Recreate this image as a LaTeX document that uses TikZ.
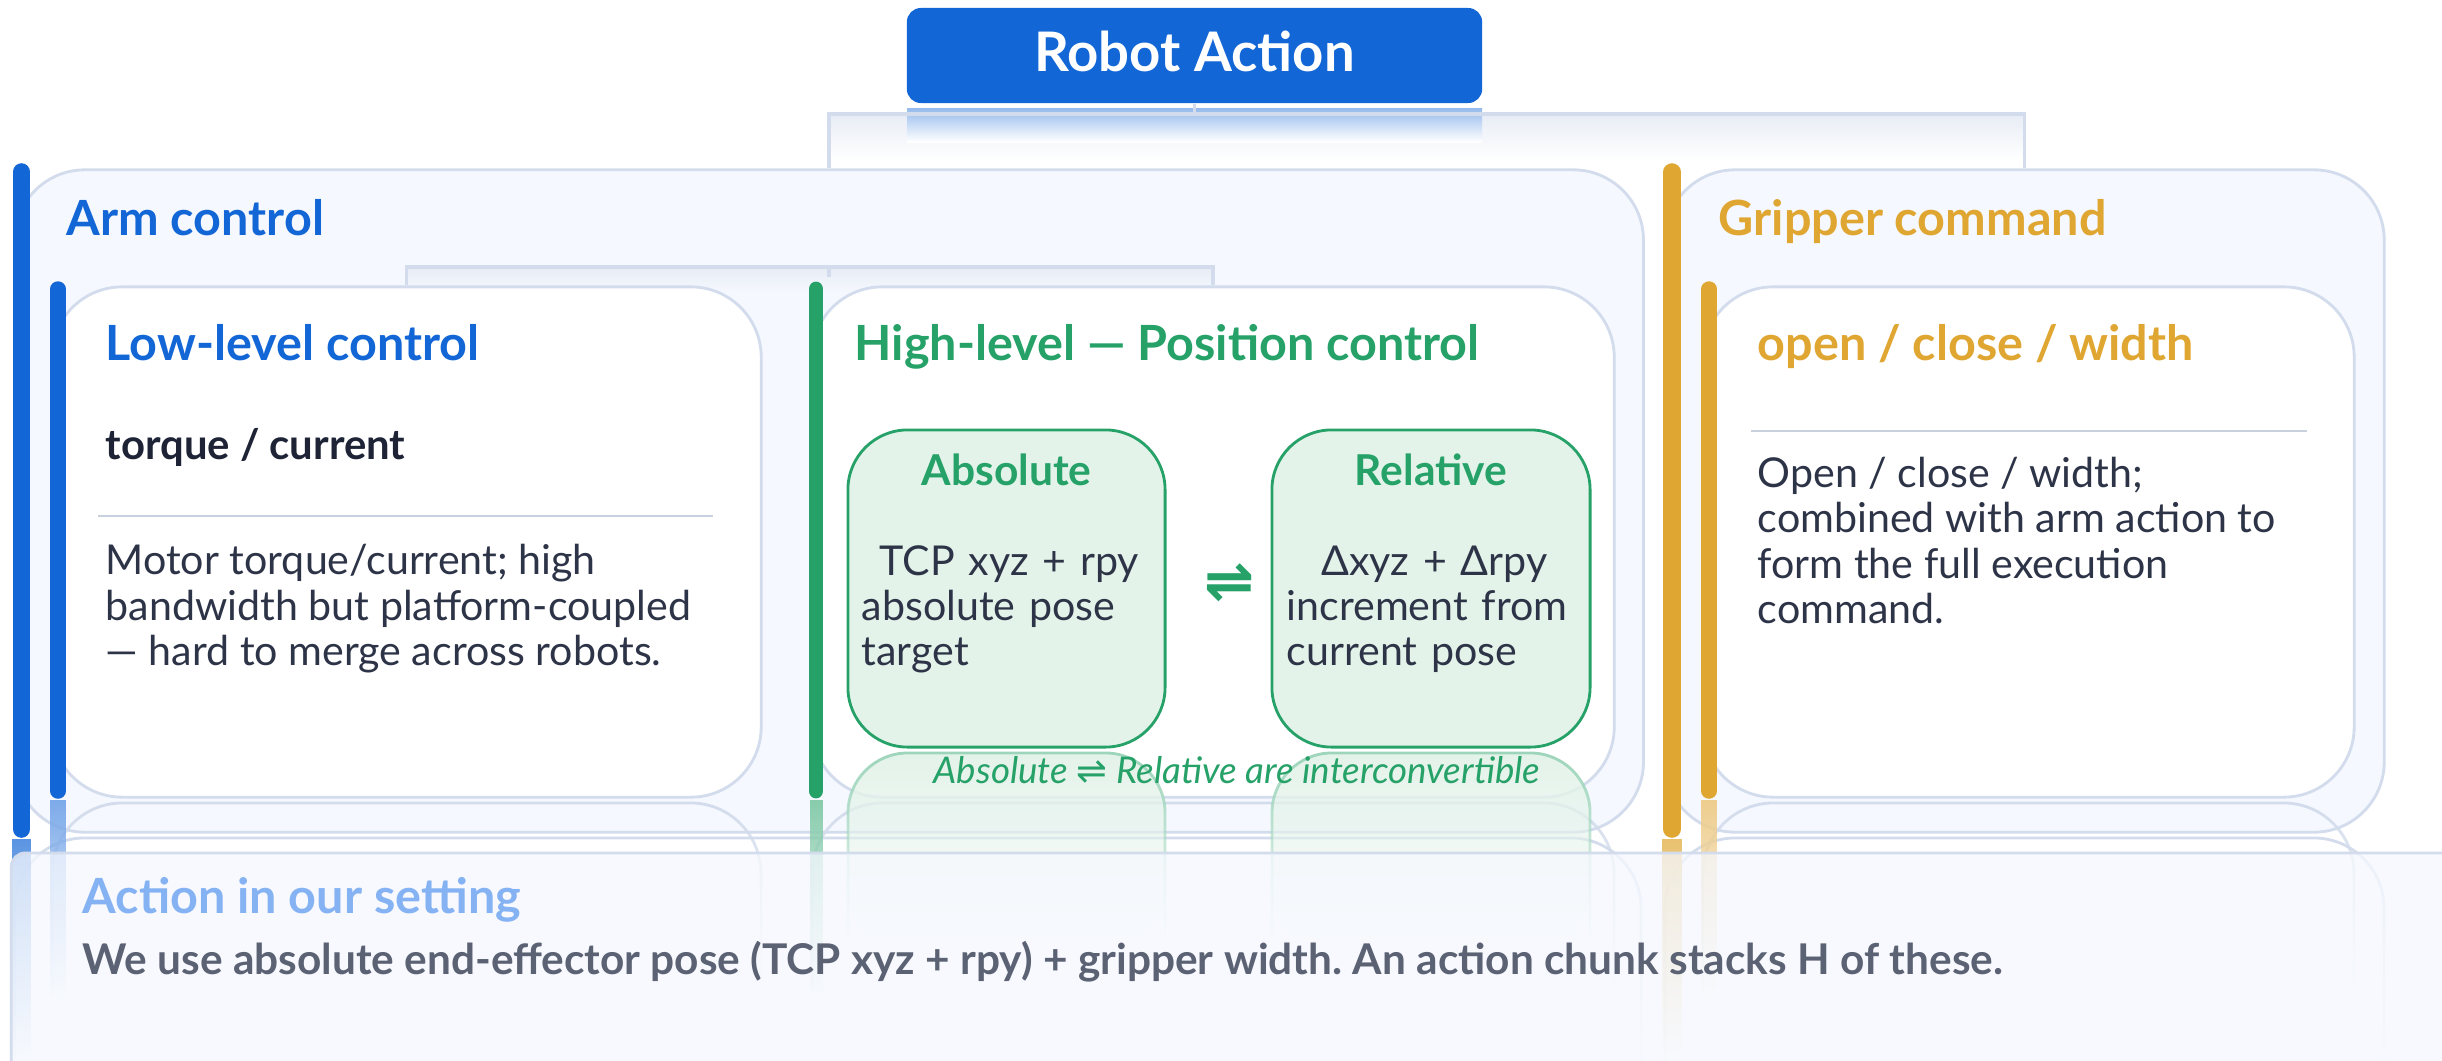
\documentclass[tikz,border=0pt]{standalone}
\usepackage{fontspec}
\setmainfont{Lato}
\newfontfamily\symfont{DejaVu Sans}
\usetikzlibrary{positioning,calc,fadings}
\frenchspacing

\definecolor{actblue}{HTML}{1366D6}
\definecolor{actgreen}{HTML}{26A269}
\definecolor{actgold}{HTML}{E0A632}
\definecolor{edgegray}{HTML}{D3DCEC}
\definecolor{panelfill}{HTML}{F5F8FE}
\definecolor{absfill}{HTML}{E4F3EA}
\definecolor{inkdark}{HTML}{1E2336}
\definecolor{inkbody}{HTML}{2E3447}
\definecolor{rulegray}{HTML}{C9D1DE}
\definecolor{notegray}{HTML}{5B6273}
\definecolor{fadeblue}{HTML}{84B2F2}

\begin{document}
\begin{tikzpicture}[x=0.01cm,y=-0.01cm,
 box/.style={draw=edgegray,line width=0.8pt,rounded corners=20pt,inner sep=0pt},
 bar/.style={line width=5pt,line cap=round},
 link/.style={draw=edgegray,line width=1.1pt},
 head/.style={anchor=base west,inner sep=0pt,font=\fontsize{13.8}{16}\selectfont\bfseries},
 body/.style={anchor=base west,inner sep=0pt,align=left,text=inkbody,font=\fontsize{11.7}{12.8}\selectfont},
 pose/.style={anchor=base west,inner sep=0pt,text width=2.95cm,align=left,text=inkbody,font=\fontsize{11.7}{12.8}\selectfont},
 refl/.style={draw=edgegray,line width=0.8pt,path fading=south}]
\useasboundingbox (0,0) rectangle (2442,1060);
\fill[white] (0,0) rectangle (2442,1060);

% top node and its reflection
\shade[top color=edgegray!55,bottom color=white] (829,113) rectangle (2024,160);
\shade[top color=actblue!45,bottom color=white] (907,108) rectangle (1482,142);
\node[fill=actblue,rounded corners=4pt,minimum width=5.75cm,minimum height=0.95cm] (robot) at (1194.5,55.5) {};
\node[text=white,inner sep=0pt,font=\fontsize{15.5}{18}\selectfont\bfseries] (robott) at (1194.5,51) {Robot Action};

% outer groups
\node[box,fill=panelfill,minimum width=16.28cm,minimum height=6.62cm] (arm) at (829,501) {};
\node[box,fill=panelfill,minimum width=7.19cm,minimum height=6.62cm] (grip) at (2024.5,501) {};
\coordinate (topj) at ($(robot.south)+(0,10)$);
\draw[link] (arm.north) |- (topj) -| (grip.north);
\draw[link] (robot.south) -- (topj);

% inner cards
\shade[top color=edgegray!55,bottom color=panelfill] (406,267) rectangle (1213,292);
\node[box,fill=white,minimum width=7.09cm,minimum height=5.10cm] (low) at (406.5,542) {};
\node[box,fill=white,minimum width=8.02cm,minimum height=5.10cm] (high) at (1213,542) {};
\node[box,fill=white,minimum width=6.51cm,minimum height=5.10cm] (gin) at (2028.5,542) {};
\coordinate (armj) at (829,267);
\draw[link] (low.north) |- (armj) -| (high.north);
\draw[link] (armj) -- ++(0,10);

% colour bars
\draw[bar,actblue] (21.5,172) -- (21.5,829);
\draw[bar,actgold] (1672,172) -- (1672,829);
\draw[bar,actblue,line width=4.4pt] (58,289) -- (58,791);
\draw[bar,actgreen,line width=4.2pt] (816,289) -- (816,791);
\draw[bar,actgold,line width=4.4pt] (1709,289) -- (1709,791);

% headings
\node[head,text=actblue] (armt) at (66,235) {Arm control};
\node[head,text=actgold] (gript) at (1718,235) {Gripper command};
\node[head,text=actblue] (lowt) at (105,360) {Low-level control};
\node[head,text=actgreen] (hight) at (854,360) {High-level — Position control};
\node[head,text=actgold] (gint) at (1757,360) {open / close / width};

% low-level card
\node[anchor=base west,inner sep=0pt,text=inkdark,font=\fontsize{11.9}{14}\selectfont\bfseries] (lows) at (105,459) {torque / current};
\draw[rulegray,line width=0.8pt] (98,516) -- (713,516);
\node[body] (lowb) at (105,665) {Motor torque/current; high\\bandwidth but platform-coupled\\— hard to merge across robots.};

% gripper card
\draw[rulegray,line width=0.8pt] (1751,431) -- (2307,431);
\node[body] (ginb) at (1757,623) {Open / close / width;\\combined with arm action to\\form the full execution\\command.};

% absolute / relative
\node[box,fill=absfill,draw=actgreen,rounded corners=17pt,minimum width=3.17cm,minimum height=3.17cm] (abs) at (1006.5,588.5) {};
\node[box,fill=absfill,draw=actgreen,rounded corners=17pt,minimum width=3.18cm,minimum height=3.17cm] (rel) at (1431,588.5) {};
\node[anchor=base,inner sep=0pt,text=actgreen,font=\fontsize{12.1}{14}\selectfont\bfseries] (abst) at (1006.5,485) {Absolute};
\node[anchor=base,inner sep=0pt,text=actgreen,font=\fontsize{12.1}{14}\selectfont\bfseries] (relt) at (1431,485) {Relative};
\node[pose] (absb) at (861,575) {{\centering TCP xyz + rpy\par}absolute pose\\target};
\node[pose] (relb) at (1286,575) {{\centering Δxyz + Δrpy\par}increment from\\current pose};
\node[inner sep=0pt,text=actgreen,font=\symfont\fontsize{17}{18}\selectfont\bfseries] (conv) at (1230,583) {⇌};

% reflections
\draw[refl,rounded corners=20pt] (15,1100) -- (15,838) -- (1643,838) -- (1643,1100);
\draw[refl,rounded corners=20pt] (1665,1100) -- (1665,838) -- (2384,838) -- (2384,1100);
\draw[refl,rounded corners=20pt] (52,1000) -- (52,803) -- (761,803) -- (761,1000);
\draw[refl,rounded corners=20pt] (812,1000) -- (812,803) -- (1614,803) -- (1614,1000);
\draw[refl,rounded corners=20pt] (1703,1000) -- (1703,803) -- (2354,803) -- (2354,1000);
\fill[absfill,path fading=south,rounded corners=17pt] (848,753) rectangle (1165,950);
\fill[absfill,path fading=south,rounded corners=17pt] (1272,753) rectangle (1590,950);
\draw[refl,draw=actgreen!45,rounded corners=17pt] (848,950) -- (848,753) -- (1165,753) -- (1165,950);
\draw[refl,draw=actgreen!45,rounded corners=17pt] (1272,950) -- (1272,753) -- (1590,753) -- (1590,950);
\fill[actblue!70,path fading=south] (12,839) rectangle (31,1060);
\fill[actgold!70,path fading=south] (1662,839) rectangle (1682,1060);
\fill[actblue!55,path fading=south] (50,800) rectangle (66,1000);
\fill[actgreen!55,path fading=south] (810,800) rectangle (823,1000);
\fill[actgold!55,path fading=south] (1701,800) rectangle (1717,1000);

\node[anchor=base,inner sep=0pt,text=actgreen,font=\fontsize{10.45}{12}\selectfont\itshape] (convt) at (1237,783) {Absolute {\symfont\upshape ⇌} Relative are interconvertible};

% bottom note
\node[draw=edgegray,fill=panelfill,fill opacity=0.75,line width=0.8pt,rounded corners=4pt,minimum width=24.6cm,minimum height=2.3cm] (note) at (1242,968) {};
\node[anchor=base west,inner sep=0pt,text=fadeblue,font=\fontsize{13.8}{16}\selectfont\bfseries] (notet) at (82,913) {Action in our setting};
\node[anchor=base west,inner sep=0pt,text=notegray,font=\fontsize{12.05}{14}\selectfont\bfseries] (noteb) at (82,974) {We use absolute end-effector pose (TCP xyz + rpy) + gripper width. An action chunk stacks H of these.};
\end{tikzpicture}
\end{document}
